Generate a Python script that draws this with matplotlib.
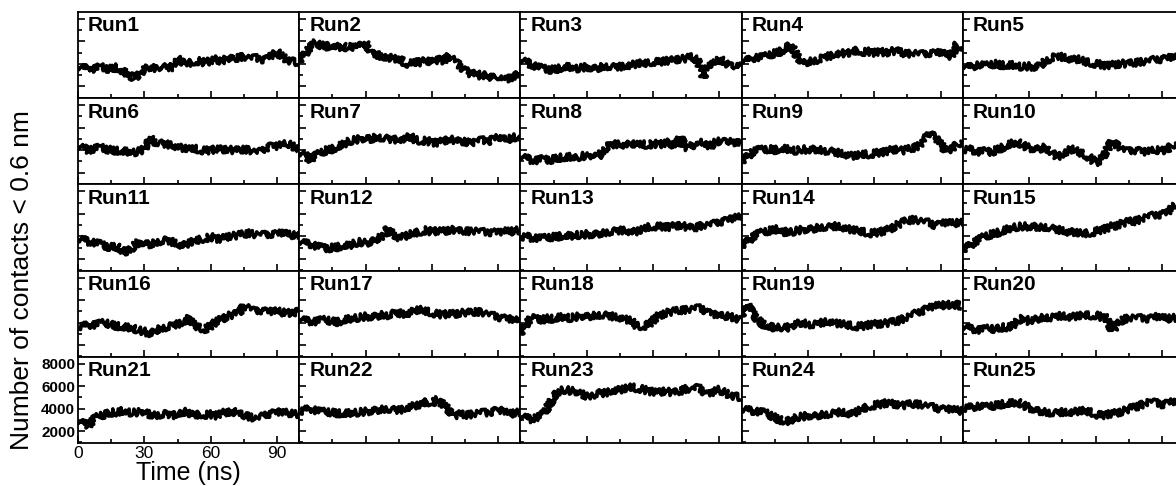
import numpy as np
import matplotlib.pyplot as plt
from matplotlib.ticker import MultipleLocator

plt.rcParams['font.family'] = ['Liberation Sans', 'DejaVu Sans']

# sampling times (ns), one value every 2.5 ns
time = np.arange(0, 100.01, 2.5)

# number of contacts < 0.6 nm, in hundreds
run1 = [38, 36, 37, 35, 37.5, 36, 35.5, 37, 33.5, 31, 28, 30, 36, 37.5, 36, 38, 36.5, 37, 45, 41, 40.5,
        42, 42.5, 41, 43, 44, 42.5, 45, 44, 46, 46.5, 45, 45.5, 44, 44.5, 47, 50.5, 46, 43.5, 42, 41.5]
run2 = [42.5, 48.5, 54.5, 59, 56.5, 55.5, 57.5, 54.5, 56, 53.5, 57.5, 56.5, 59, 50, 48.5, 45.5, 47, 44, 45.5, 41, 39.5,
        42.5, 41, 43.5, 41.5, 44, 42.5, 47, 44, 38, 35, 30.5, 31.5, 29, 30.5, 27.5, 29.5, 28.5, 26.5, 29, 32]
run3 = [44, 42, 39, 37, 36, 35, 35, 36, 37.5, 37, 36, 36.5, 37.5, 36, 36.5, 38, 38, 37, 37.5, 38, 39.5,
        40, 41, 40.5, 42, 41.5, 43, 42.5, 44, 44.5, 45, 46, 44, 28, 38, 40, 44, 42, 38, 40, 40]
run4 = [44, 43, 45, 45.5, 46, 48, 49.5, 51, 54, 57, 47, 41, 42, 43, 44, 46, 47, 49, 50, 49, 51,
        52, 50.5, 51, 50, 51, 50, 51.5, 51.5, 50, 49, 50, 49, 48.5, 50, 49.5, 50, 48, 47, 58, 53]
run5 = [39, 37, 38, 39, 38, 39.5, 40, 39, 38.5, 39, 38, 37.5, 38, 37, 39, 43, 45, 47, 46, 45, 44,
        44.5, 42, 41, 40, 39.5, 38.5, 39, 40, 40.5, 40, 41, 42, 42, 43, 44, 44.5, 45, 46, 45, 46]
run6 = [44, 42, 39.5, 41, 42.5, 41, 40, 39.5, 39, 38.5, 38, 39, 41, 51, 47, 46, 45, 44.5, 43, 42, 41,
        41.5, 40, 39.5, 40, 41, 40.5, 41, 40, 39.5, 41, 40, 38, 38.5, 42, 44, 43, 45, 45.5, 43, 41]
run7 = [38, 36, 31, 35, 38, 40, 41, 43, 45, 48, 49, 50, 51, 50, 52, 51, 50, 49, 50.5, 49, 53,
        49, 48, 48.5, 47, 46.5, 48, 50, 49, 47, 48, 46, 48, 49, 47.5, 50, 51, 49, 50, 51.5, 50]
run8 = [35, 33, 31, 30.5, 32, 31, 32, 33.5, 33, 34, 33, 35, 34.5, 36, 34, 40, 44, 45, 45.5, 44.5, 46,
        45, 45.5, 44, 46, 45, 46, 47, 43, 52, 40, 45, 44, 47, 42, 46, 49, 47, 50, 46, 48]
run9 = [30, 34, 38, 40, 40.5, 41, 40, 41.5, 41, 40, 39.5, 41, 40, 41, 40.5, 39.5, 39, 38, 37, 36, 35,
        35.5, 36.5, 36, 37, 38, 38.5, 40, 41, 39.5, 40.5, 42, 44, 48, 56, 51, 45, 39, 42, 45, 49]
run10 = [40, 41, 39.5, 38, 39, 38, 40, 42, 44, 46, 47, 44, 42, 41, 41.5, 43, 38, 34, 36, 40, 41,
         38, 36, 33, 29, 31, 40, 48, 44, 40, 39, 40, 39.5, 38, 39, 40, 39.5, 41, 45, 47, 46]
run11 = [38, 37, 35, 34, 33, 31, 30.5, 31, 27, 26, 31, 35, 34, 33, 34.5, 36, 36.5, 35, 33, 32, 34,
         36, 37, 38, 39.5, 38, 37.5, 40, 40.5, 41, 42, 43, 41.5, 42, 41, 42.5, 42, 43, 41.5, 41, 40]
run12 = [36, 34, 33, 31, 30, 29, 30, 30.5, 32, 31.5, 34, 35, 34, 35, 38, 40, 47, 41, 39, 40, 42,
         43, 44, 45.5, 44, 45, 44.5, 45.5, 46, 44, 45, 44.5, 45, 44, 43.5, 44, 43, 44.5, 44, 45, 45.5]
run13 = [39, 40, 38.5, 38, 38, 39, 39.5, 40, 41, 40, 41.5, 41, 42, 41.5, 42.5, 43, 44, 44.5, 45, 45.5, 44,
         44.5, 46, 48, 49, 48.5, 49, 48, 49.5, 50, 48.5, 47, 48.5, 50, 50, 51, 53, 54, 55, 56.5, 57]
run14 = [32, 35, 39, 42, 44, 45, 46, 47, 43, 44, 45, 46, 46.5, 47, 48, 48.5, 48, 49, 48.5, 47, 46,
         45, 44, 42.5, 43, 44, 45, 47, 50, 52, 54, 55, 54, 53, 52, 50, 51, 52, 51.5, 52, 52]
run15 = [28, 31, 34, 37, 40, 41.5, 43, 44, 46, 48, 48.5, 49, 48.5, 49, 48, 48.5, 47, 46, 45, 44, 44,
         43, 42.5, 43, 44, 46, 47, 49, 50, 52, 53, 53.5, 55, 57, 58, 59, 60, 60.5, 66, 68, 67]
run16 = [36, 37, 38, 37.5, 39, 40, 38, 37, 36, 35.5, 35, 33, 32, 30, 33, 35, 36, 37, 38.5, 40, 44,
         38, 35, 34, 37, 41, 43, 46, 47, 48, 55, 53, 50, 51, 50, 49.5, 50, 49, 48.5, 49, 50]
run17 = [44, 42, 41, 40.5, 42, 42.5, 41, 40.5, 42, 43, 44, 44.5, 45.5, 45, 46, 47, 46.5, 48, 48.5, 47, 49,
         51, 51.5, 50, 48.5, 47.5, 47, 48, 47.5, 48.5, 49, 48.5, 50, 49, 47.5, 46, 45, 44, 43, 41, 43]
run18 = [30, 38, 44, 43, 42.5, 44, 43, 44.5, 45, 44, 45, 46, 45.5, 46, 47, 46.5, 46, 45, 44.5, 43, 42,
         37, 36.5, 37.5, 42, 46, 48, 49.5, 50, 51, 51.5, 52, 53, 52, 49, 47, 45.5, 46, 45, 44, 42]
run19 = [46, 56, 48, 42, 38, 36.5, 35, 36, 35, 37, 39.5, 40, 38.5, 38, 39, 40.5, 41, 39.5, 39, 38, 37,
         36.5, 37, 38, 38.5, 39, 39.5, 40, 41, 43, 45, 47, 49, 51.5, 53, 54.5, 55, 56, 55.5, 56, 54]
run20 = [37, 35, 34, 33, 34, 35, 34, 36, 35, 37, 42, 44, 41, 43, 44, 45, 44, 45.5, 46, 45, 45.5,
         46, 47, 46, 46.5, 45, 44, 33, 38, 43, 44, 44.5, 44, 43.5, 44, 45, 44, 43.5, 44, 44.5, 44]
run21 = [30, 27, 25, 31, 34, 35, 37, 36, 38, 37, 36.5, 37, 38, 35, 34, 35, 35.5, 34, 35, 38, 36,
         34, 35, 34.5, 35, 34, 36, 37, 38, 35, 34.5, 33, 31, 32, 35, 36, 37, 36, 36.5, 35, 35.5]
run22 = [37, 39, 40, 38, 37, 37.5, 36.5, 36, 35.5, 36, 36.5, 37, 37.5, 38, 39, 39.5, 40, 39, 38.5, 40, 42,
         43, 43.5, 46, 45, 48, 44, 39, 34, 35, 34.5, 35, 36, 37, 36, 38, 39, 37, 35.5, 36, 37]
run23 = [34, 32, 30.5, 32, 34, 42, 50, 56, 57, 56, 55.5, 54, 51, 52, 54, 53.5, 55, 56.5, 57, 58, 59.5,
         58, 57.5, 56, 55, 54.5, 56, 55, 54, 56, 58, 57, 59, 56, 52, 55, 57, 54, 52, 51, 50]
run24 = [40, 39, 38, 37, 36.5, 35, 32, 30, 28, 30, 32.5, 33, 34, 33.5, 34.5, 35, 35.5, 36, 37, 36, 35.5,
         38, 40, 42, 43, 44, 45, 44.5, 44, 43, 43.5, 44.5, 44, 43, 42, 41, 40, 39.5, 39, 38.5, 38]
run25 = [40, 41, 41.5, 42, 41, 42.5, 43, 44, 44.5, 45, 46, 43, 41, 39, 38, 37, 36.5, 36, 37, 36.5, 37.5,
         38, 38.5, 37, 35, 34, 35, 35.5, 36.5, 38, 40, 41, 43, 45, 47, 45, 44, 45, 46, 45.5, 45]

runs = [run1, run2, run3, run4, run5, run6, run7, run8, run9, run10,
        run11, run12, run13, run14, run15, run16, run17, run18, run19, run20,
        run21, run22, run23, run24, run25]

W, H = 1176, 486
fig = plt.figure(figsize=(W / 100, H / 100), dpi=100)

# panel grid in pixels: left edge, top edge, cell size
x0, y0 = 78, 12
pw, ph = 221.2, 86.2

for i, vals in enumerate(runs):
    r, c = divmod(i, 5)
    left = (x0 + c * pw) / W
    bottom = 1 - (y0 + (r + 1) * ph) / H
    ax = fig.add_axes([left, bottom, pw / W, ph / H])
    line, = ax.plot(time, np.array(vals) * 100, color='black', lw=2.6,
                    solid_capstyle='butt', solid_joinstyle='round')
    # rough, trajectory-like stroke
    line.set_sketch_params(scale=3.5, length=0.6, randomness=1.5)
    ax.set_xlim(0, 100)
    ax.set_ylim(950, 8620)
    ax.xaxis.set_major_locator(MultipleLocator(30))
    ax.xaxis.set_minor_locator(MultipleLocator(15))
    ax.yaxis.set_major_locator(MultipleLocator(2000))
    ax.yaxis.set_minor_locator(MultipleLocator(1000))
    ax.tick_params(which='both', direction='in', top=False, right=False, width=1.2, pad=2)
    ax.tick_params(which='major', length=5)
    ax.tick_params(which='minor', length=3)
    for s in ax.spines.values():
        s.set_linewidth(1.3)
    ax.text(0.045, 0.95, 'Run%d' % (i + 1), transform=ax.transAxes,
            fontsize=15, fontweight='bold', va='top', ha='left')
    if i == 20:
        ax.set_xticks([0, 30, 60, 90])
        ax.set_yticks([2000, 4000, 6000, 8000])
        ax.tick_params(axis='x', labelsize=12.5)
        ax.tick_params(axis='y', labelsize=11)
        for lab in ax.get_yticklabels():
            lab.set_fontweight('bold')
    else:
        ax.set_xticklabels([])
        ax.set_yticklabels([])

fig.text(188 / W, 1 - 473 / H, 'Time (ns)', fontsize=18, ha='center', va='center')
fig.text(22 / W, 1 - 280 / H, 'Number of contacts < 0.6 nm', rotation=90,
         fontsize=19, ha='center', va='center')

fig.savefig('out.png', dpi=100)
